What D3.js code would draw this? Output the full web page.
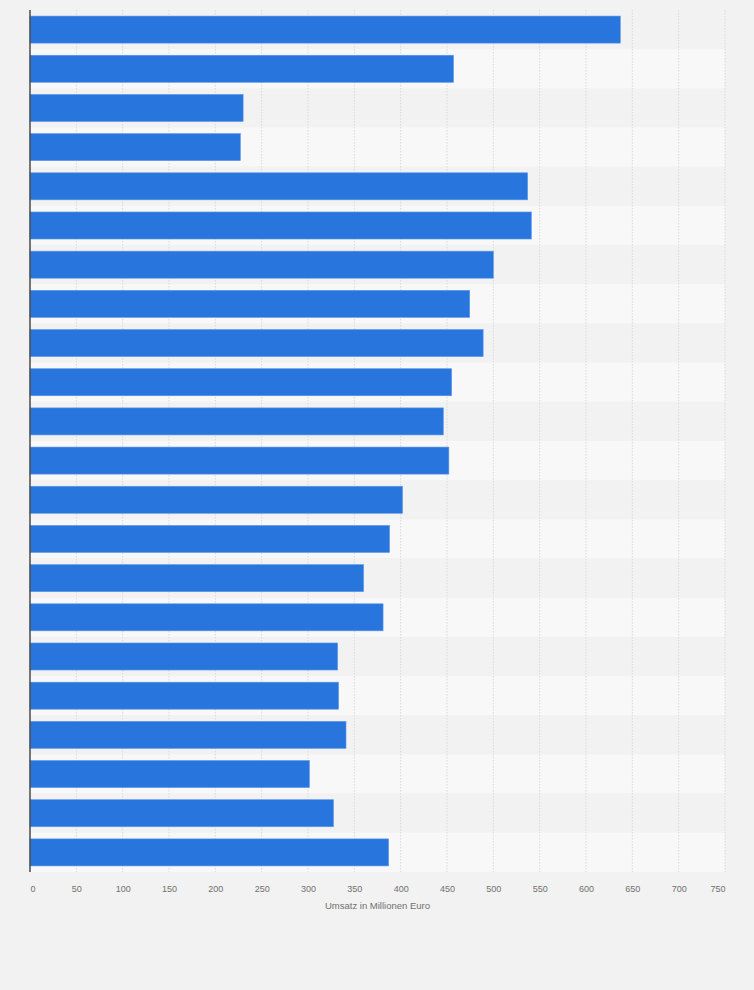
<!DOCTYPE html>
<html>
<head>
<meta charset="utf-8">
<script src="https://cdn.jsdelivr.net/npm/d3@7"></script>
<style>
  body { margin: 0; background: #f2f2f2; }
  svg { display: block; font-family: "Liberation Sans", Arial, sans-serif; }
</style>
</head>
<body>
<div id="chart"></div>
<script>
// rows top to bottom (category names are not shown in the chart)
const categories = ["1","2","3","4","5","6","7","8","9","10","11","12","13","14","15","16","17","18","19","20","21","22"];
const umsatz = [637, 457, 230, 227, 537, 541, 500, 474.5, 489, 455, 446, 452, 402, 388, 360, 381, 332, 333, 341, 301.5, 327.5, 387];
const xTicks = [0, 50, 100, 150, 200, 250, 300, 350, 400, 450, 500, 550, 600, 650, 700, 750];
const xTitle = "Umsatz in Millionen Euro";

(function () {
  const width = 754, height = 990;
  const margin = { top: 10, right: 29, left: 30 };
  const plotBottom = 872;

  const svg = d3.select("#chart")
    .append("svg")
    .attr("width", width)
    .attr("height", height);

  svg.append("rect")
    .attr("width", width).attr("height", height)
    .attr("fill", "#f2f2f2");

  const x = d3.scaleLinear().domain([0, 750]).range([margin.left, width - margin.right]);
  const y = d3.scaleBand().domain(categories).range([margin.top, plotBottom]).paddingInner(0.31).paddingOuter(0.155);
  const rows = d3.scaleBand().domain(categories).range([margin.top, plotBottom]);

  // alternating row bands
  svg.selectAll(".band")
    .data(categories)
    .enter()
    .append("rect")
    .attr("x", x(0))
    .attr("y", d => rows(d))
    .attr("width", x(750) - x(0))
    .attr("height", rows.bandwidth())
    .attr("fill", (d, i) => i % 2 ? "#f8f8f8" : "#f2f2f2");

  // dotted grid
  svg.selectAll(".grid")
    .data(xTicks.slice(1))
    .enter()
    .append("line")
    .attr("x1", d => x(d)).attr("x2", d => x(d))
    .attr("y1", margin.top).attr("y2", plotBottom)
    .attr("stroke", "#dadada")
    .attr("stroke-width", 1)
    .attr("stroke-dasharray", "1.5,1.5");

  svg.selectAll(".bar")
    .data(umsatz)
    .enter()
    .append("rect")
    .attr("x", x(0))
    .attr("y", (d, i) => y(categories[i]))
    .attr("width", d => x(d) - x(0))
    .attr("height", y.bandwidth())
    .attr("fill", "#2876dd")
    .attr("stroke", "#5b97e6")
    .attr("stroke-width", 0.6);

  // left axis line, no labels
  svg.append("g")
    .attr("transform", `translate(${x(0)},0)`)
    .call(d3.axisLeft(y).tickSize(0).tickFormat(""))
    .call(g => g.select(".domain").attr("stroke", "#4a4a4a").attr("stroke-width", 1.5)
      .attr("d", `M0,${margin.top}V${plotBottom}`));

  // bottom axis labels
  const xAxis = svg.append("g")
    .attr("transform", `translate(0,${plotBottom})`)
    .call(d3.axisBottom(x).tickValues(xTicks).tickSize(0).tickPadding(14));
  xAxis.select(".domain").remove();
  xAxis.selectAll("text")
    .attr("fill", "#707070")
    .style("font-size", "9px")
    .attr("text-anchor", (d, i) => i === 0 ? "start" : i === xTicks.length - 1 ? "end" : "middle");

  svg.append("text")
    .attr("x", (x(0) + x(750)) / 2)
    .attr("y", 909)
    .attr("text-anchor", "middle")
    .attr("fill", "#707070")
    .style("font-size", "9.5px")
    .text(xTitle);
})();
</script>
</body>
</html>
